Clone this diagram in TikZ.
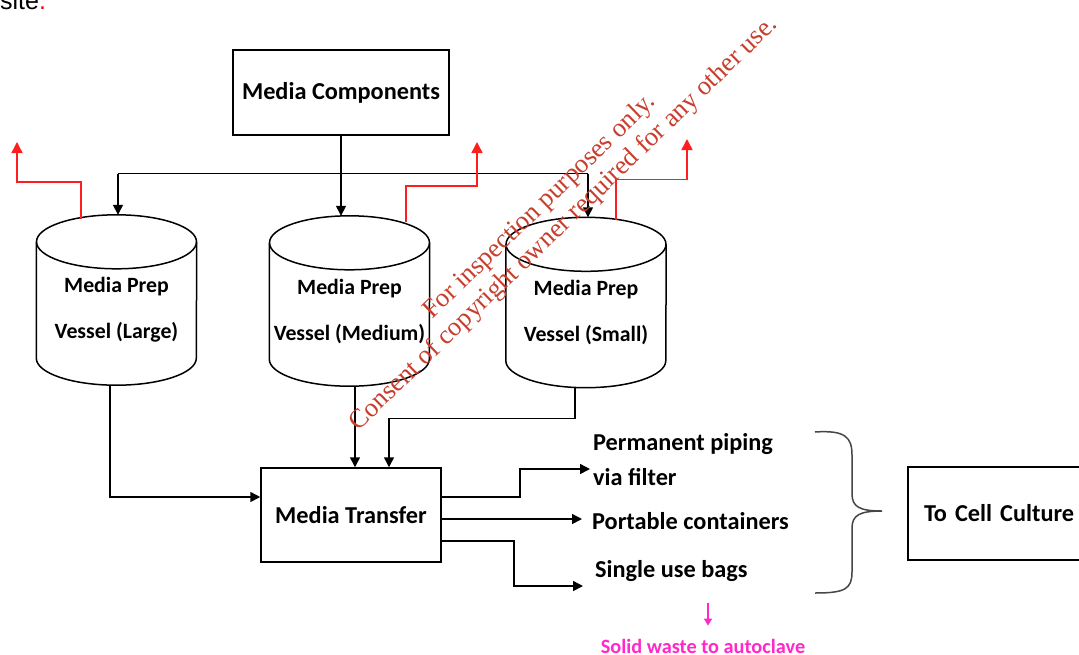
\documentclass[tikz,border=0pt]{standalone}
\usepackage{fontspec}
\setmainfont{Carlito}
\newfontfamily\arialfont{Liberation Sans}
\newfontfamily\timesfont{Liberation Serif}
\usetikzlibrary{arrows.meta,calc}

\definecolor{ventred}{RGB}{255,30,30}
\definecolor{wmred}{RGB}{200,62,45}
\definecolor{wastepink}{RGB}{255,40,200}
\definecolor{bracegray}{RGB}{70,70,70}

\tikzset{
  line/.style={draw=black, line width=1.5pt},
  arr/.style={line, -{Triangle[length=10pt,width=10pt]}},
  vent/.style={draw=ventred, line width=1.5pt, -{Triangle[length=11pt,width=11pt]}},
  box/.style={line, rectangle, inner sep=0pt, font=\bfseries\fontsize{24.3}{28}\selectfont},
  cylbox/.style={rectangle, inner sep=0pt, minimum width=160pt, minimum height=170pt},
  cyltext/.style={align=center, font=\bfseries\fontsize{21.8}{46}\selectfont},
  lbl/.style={anchor=west, align=left, inner sep=0pt, font=\bfseries\fontsize{24.3}{35}\selectfont},
}

% Outline of a vertical storage vessel spanning node #1
\newcommand\vesseloutline[1]{%
  \draw[line] ([yshift=-27pt]#1.north) ellipse[x radius=80pt, y radius=27pt];
  \draw[line] ([yshift=-27pt]#1.north west) -- ([yshift=27pt]#1.south west)
    arc[start angle=180, end angle=360, x radius=80pt, y radius=27pt]
    -- ([yshift=-27pt]#1.north east);
}

\begin{document}
\begin{tikzpicture}[x=1pt, y=-1pt]
\useasboundingbox (0,0) rectangle (1079,654);
\fill[white] (0,0) rectangle (1079,654);

% trailing text of the preceding line
\node[anchor=base west, inner sep=0pt, font=\arialfont\fontsize{25}{28}\selectfont] (site) at (0,9) {site\textcolor{red}{.}};

% boxes
\node[box, minimum width=216pt, minimum height=85pt] (comp) at (341,92.5) {Media Components};
\node[box, minimum width=180pt, minimum height=94pt] (transfer) at (351,515) {Media Transfer};
\node[box, minimum height=93pt, text width=164pt, inner xsep=16pt, align=left] (cell) at (1006,513.5) {To Cell Culture};

% vessels
\node[cylbox] (large) at (116.5,300) {};
\node[cylbox] (medium) at (349.5,301) {};
\node[cylbox] (small) at (586,302.5) {};
\vesseloutline{large}
\vesseloutline{medium}
\vesseloutline{small}
\node[cyltext] (largeT) at ($(large.center)+(0,10)$) {Media Prep\\Vessel (Large)};
\node[cyltext] (mediumT) at ($(medium.center)+(0,10)$) {Media Prep\\Vessel (Medium)};
\node[cyltext] (smallT) at ($(small.center)+(0,10)$) {Media Prep\\Vessel (Small)};

% distribution of components to the vessels
\coordinate (busL) at (118,173.5);
\coordinate (busR) at (588,173.5);
\draw[line] (comp.south) -- (comp.south |- busL);
\draw[line] (busL) -- (busR);
\draw[arr] (busL) -- (busL |- large.north);
\draw[arr] (comp.south |- busL) -- (comp.south |- medium.north);
\draw[arr] (busR) -- (busR |- small.north);

% vents
\coordinate (vent1) at (17,142);
\coordinate (vent2) at (477,142);
\coordinate (vent3) at (687,139);
\draw[vent] ($(large.north)+(-35.5,4)$) -- ++(0,-37) -| (vent1);
\draw[vent] ($(medium.north)+(56.5,6)$) -- ++(0,-36) -| (vent2);
\draw[vent] ($(small.north)+(30,3)$) -- ++(0,-41) -| (vent3);

% vessel outlets to the transfer
\draw[arr] ($(large.south)+(-6.5,0)$) |- ($(transfer.west)+(0,-18)$);
\draw[arr] ($(medium.south)+(5.5,0)$) -- ($(transfer.north)+(4,0)$);
\draw[arr] ($(small.south)+(-11,0)$) -- ++(0,31) -| ($(transfer.north)+(38,0)$);

% transfer routes
\node[lbl] (pipe) at (593,460) {Permanent piping\\via filter};
\node[lbl] (port) at (592,521) {Portable containers};
\node[lbl] (bags) at (595,571) {Single use bags};
\draw[arr] ($(transfer.east)+(0,-18)$) -- ++(78,0) |- ($(pipe.west)+(-3,9)$);
\draw[arr] ($(transfer.east)+(0,4)$) -- ($(port.west)+(-10,-2)$);
\draw[arr] ($(transfer.east)+(0,26)$) -- ++(72,0) |- ($(bags.west)+(-12,15)$);

% grouping brace
\draw[draw=bracegray, line width=1.5pt]
  (815,432) .. controls (845,430) and (852,437) .. (852,455)
  -- (852,494) .. controls (852,507) and (860,511) .. (882,511)
  .. controls (860,511) and (852,515) .. (852,528)
  -- (852,572) .. controls (852,589) and (845,593) .. (815,593);

% waste stream
\node[inner sep=0pt, text=wastepink, font=\fontsize{20.3}{24}\selectfont\bfseries] (waste) at (703,646) {Solid waste to autoclave};
\draw[draw=wastepink, line width=1.3pt, -{Triangle[length=7pt,width=8pt]}] ($(waste.north)+(5,-36)$) -- ($(waste.north)+(5,-13)$);

% watermark
\begin{scope}[text=wmred, font=\timesfont\fontsize{26.5}{30}\selectfont]
\node[rotate=44, inner sep=0pt] (wm1) at (540,207) {For inspection purposes only.};
\node[rotate=44, inner sep=0pt] (wm2) at (564,224) {Consent of copyright owner required for any other use.};
\end{scope}
\end{tikzpicture}
\end{document}
